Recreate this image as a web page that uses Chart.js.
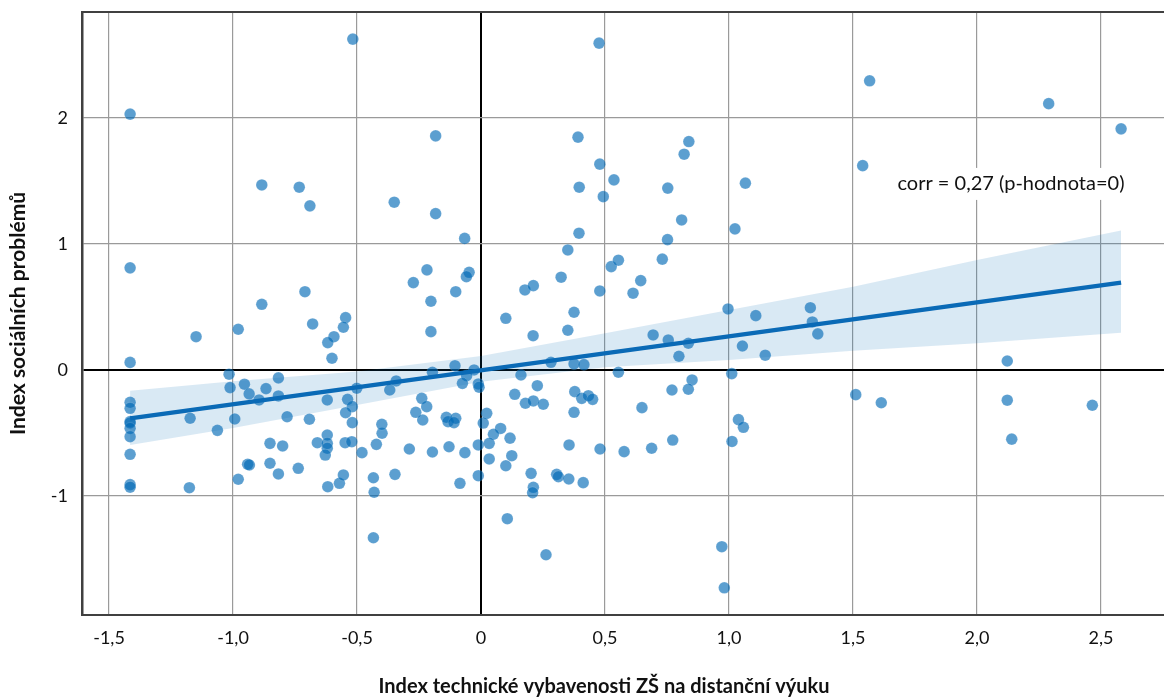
<!DOCTYPE html>
<html>
<head>
<meta charset="utf-8">
<script src="https://cdn.jsdelivr.net/npm/chart.js@4"></script>
<style>
html,body{margin:0;padding:0;background:#fff;}
#wrap{width:1164px;height:698px;}
</style>
</head>
<body>
<div id="wrap"><canvas id="c" width="1164" height="698"></canvas></div>
<script>
// ---- data ----
const xTicks = [-1.5, -1, -0.5, 0, 0.5, 1, 1.5, 2, 2.5];
const xTickLabels = ['-1,5', '-1,0', '-0,5', '0', '0,5', '1,0', '1,5', '2,0', '2,5'];
const yTicks = [-1, 0, 1, 2];
const yTickLabels = ['-1', '0', '1', '2'];

const xTitle = 'Index technické vybavenosti ZŠ na distanční výuku';
const yTitle = 'Index sociálních problémů';
const corrLabel = 'corr = 0,27 (p-hodnota=0)';

const pointX = [
 -1.415,-1.415,-1.415,-1.415,-1.415,-1.415,-1.415,-1.415,-1.415,-1.415,-1.415,-1.415,
 -1.149,-0.979,-0.884,-0.710,-0.679,-0.546,-0.555,-0.593,-0.618,-0.601,
 -1.016,-1.012,-0.954,-0.935,-0.895,-0.867,-0.817,-0.817,-0.782,-0.692,
 -0.620,-0.538,-0.519,-0.546,-0.519,-0.501,-0.993,-1.173,-1.063,-1.176,
 -0.979,-0.941,-0.934,-0.851,-0.800,-0.851,-0.817,-0.737,-0.660,-0.620,
 -0.620,-0.620,-0.628,-0.618,-0.571,-0.555,-0.548,-0.521,-0.480,-0.422,
 -0.434,-0.431,-0.434,-0.399,-0.400,
 -0.884,-0.733,-0.690,-0.517,0.476,-0.183,0.391,0.479,0.536,0.396,
 0.493,-0.350,-0.183,-0.066,0.395,0.753,0.752,0.350,1.567,2.289,
 2.581,0.838,0.819,1.539,1.066,0.809,1.024,
 -0.218,-0.273,-0.048,-0.059,-0.102,-0.202,-0.202,0.100,0.177,0.211,
 0.323,0.375,0.350,0.210,0.479,0.525,0.554,0.644,0.613,0.731,
 0.694,0.755,0.282,0.375,0.415,0.554,-0.196,-0.105,-0.028,-0.058,
 -0.075,-0.011,-0.008,0.161,0.227,-0.342,-0.368,-0.239,-0.219,-0.263,
 -0.235,-0.140,-0.133,-0.102,-0.109,0.136,0.179,0.211,0.251,0.378,
 0.406,0.433,0.450,0.375,0.649,0.770,0.023,0.009,0.079,0.050,0.117,
 0.996,1.108,1.328,1.336,1.358,1.054,1.146,0.836,0.798,1.011,
 0.851,0.836,1.511,1.614,2.122,2.122,2.465,1.038,1.058,0.773,
 1.012,2.140,0.971,0.981,
 -0.289,-0.196,-0.129,-0.065,-0.011,0.033,0.033,0.124,0.100,-0.347,
 -0.085,-0.011,0.202,0.211,0.208,0.305,0.312,0.354,0.412,0.355,
 0.480,0.577,0.688,0.106,0.262
];
const pointY = [
 2.03,0.81,0.06,-0.256,-0.304,-0.41,-0.42,-0.463,-0.529,-0.669,-0.91,-0.93,
 0.264,0.323,0.521,0.621,0.365,0.415,0.339,0.264,0.217,0.093,
 -0.034,-0.140,-0.113,-0.190,-0.238,-0.148,-0.063,-0.206,-0.371,-0.391,
 -0.238,-0.233,-0.291,-0.339,-0.418,-0.145,-0.389,-0.383,-0.479,-0.934,
 -0.867,-0.748,-0.754,-0.582,-0.603,-0.740,-0.825,-0.780,-0.577,-0.516,
 -0.582,-0.621,-0.675,-0.926,-0.899,-0.833,-0.577,-0.569,-0.656,-0.590,
 -0.855,-0.970,-1.331,-0.502,-0.431,
 1.468,1.450,1.302,2.625,2.593,1.857,1.847,1.633,1.508,1.450,
 1.375,1.331,1.240,1.044,1.085,1.443,1.034,0.952,2.294,2.113,
 1.913,1.812,1.712,1.621,1.482,1.190,1.119,
 0.794,0.693,0.775,0.740,0.621,0.545,0.304,0.410,0.635,0.669,
 0.736,0.458,0.315,0.272,0.627,0.820,0.871,0.709,0.609,0.879,
 0.278,0.238,0.061,0.048,0.042,-0.018,-0.018,0.034,0.000,-0.045,
 -0.106,-0.111,-0.137,-0.040,-0.125,-0.087,-0.159,-0.225,-0.291,-0.336,
 -0.397,-0.375,-0.410,-0.383,-0.418,-0.193,-0.264,-0.246,-0.272,-0.172,
 -0.225,-0.204,-0.233,-0.336,-0.299,-0.159,-0.344,-0.421,-0.464,-0.510,-0.541,
 0.484,0.431,0.494,0.381,0.286,0.190,0.117,0.212,0.109,-0.029,
 -0.079,-0.153,-0.196,-0.260,0.071,-0.240,-0.280,-0.394,-0.455,-0.556,
 -0.567,-0.549,-1.402,-1.728,
 -0.627,-0.651,-0.609,-0.656,-0.595,-0.582,-0.706,-0.680,-0.760,-0.828,
 -0.899,-0.839,-0.820,-0.931,-0.974,-0.828,-0.847,-0.865,-0.894,-0.595,
 -0.627,-0.648,-0.621,-1.180,-1.466
];

const fitX = [-1.415, 2.581];
const fitY = [-0.384, 0.693];

const bandX = [-1.415, -1.0, -0.5, 0, 0.5, 1.0, 1.5, 2.0, 2.581];
const bandUpper = [-0.164, -0.09, -0.013, 0.111, 0.291, 0.476, 0.66, 0.873, 1.106];
const bandLower = [-0.595, -0.46, -0.278, -0.093, 0.021, 0.079, 0.153, 0.212, 0.296];

// ---- chart ----
const FONT = 'Lato, "Open Sans", sans-serif';
const zip = (xs, ys) => xs.map((x, i) => ({x: x, y: ys[i]}));

const decor = {
  id: 'decor',
  beforeDatasetsDraw(chart) {
    const {ctx, chartArea: a} = chart;
    ctx.save();
    ctx.strokeStyle = '#404040';
    ctx.lineWidth = 2;
    ctx.beginPath();
    ctx.moveTo(a.left - 1, a.top);
    ctx.lineTo(chart.width, a.top);
    ctx.stroke();
    ctx.restore();
  },
  afterDraw(chart) {
    const {ctx, chartArea: a, scales} = chart;
    ctx.save();
    // correlation label with white box
    ctx.font = '20px ' + FONT;
    const tx = scales.x.getPixelForValue(2.137);
    const ty = scales.y.getPixelForValue(1.476);
    const w = ctx.measureText(corrLabel).width;
    ctx.fillStyle = '#fff';
    ctx.fillRect(tx - w / 2 - 5, ty - 16, w + 10, 32);
    ctx.fillStyle = '#111';
    ctx.textAlign = 'center';
    ctx.textBaseline = 'middle';
    ctx.fillText(corrLabel, tx, ty);
    // axis titles
    ctx.font = 'bold 20px ' + FONT;
    ctx.fillText(xTitle, 604, 687);
    ctx.translate(18, (a.top + a.bottom) / 2);
    ctx.rotate(-Math.PI / 2);
    ctx.font = 'bold 21px ' + FONT;
    ctx.fillText(yTitle, 0, 0);
    ctx.restore();
  }
};

const gridColor = ctx => (ctx.tick && ctx.tick.value === 0) ? '#000000' : '#9a9a9a';
const gridWidth = ctx => (ctx.tick && ctx.tick.value === 0) ? 2 : 1.2;

new Chart(document.getElementById('c'), {
  type: 'scatter',
  data: {
    datasets: [
      {
        label: 'fit',
        data: zip(fitX, fitY),
        showLine: true,
        borderColor: '#0a6ab6',
        borderWidth: 4.5,
        pointRadius: 0,
        fill: false,
        order: 0
      },
      {
        label: 'points',
        data: zip(pointX, pointY),
        backgroundColor: 'rgba(0,105,182,0.64)',
        borderColor: 'rgba(255,255,255,0.25)',
        borderWidth: 0.5,
        pointRadius: 5.8,
        order: 1
      },
      {
        label: 'upper',
        data: zip(bandX, bandUpper),
        showLine: true,
        borderWidth: 0,
        borderColor: 'rgba(0,0,0,0)',
        backgroundColor: 'rgba(0,105,182,0.15)',
        pointRadius: 0,
        fill: '+1',
        order: 2
      },
      {
        label: 'lower',
        data: zip(bandX, bandLower),
        showLine: true,
        borderWidth: 0,
        borderColor: 'rgba(0,0,0,0)',
        pointRadius: 0,
        fill: false,
        order: 3
      }
    ]
  },
  options: {
    responsive: false,
    animation: false,
    events: [],
    layout: {autoPadding: false, padding: {top: 12, right: 0, left: 0, bottom: 0}},
    plugins: {legend: {display: false}, tooltip: {enabled: false}},
    scales: {
      x: {
        type: 'linear',
        min: -1.609,
        max: 2.754,
        afterBuildTicks: s => { s.ticks = xTicks.map(v => ({value: v})); },
        afterFit: s => { s.height = 83; s.paddingLeft = 0; s.paddingRight = 0; },
        ticks: {
          callback: v => xTickLabels[xTicks.indexOf(v)],
          font: {family: FONT, size: 18},
          color: '#111',
          padding: 12,
          maxRotation: 0,
          autoSkip: false
        },
        grid: {color: gridColor, lineWidth: gridWidth, drawTicks: false},
        border: {display: true, color: '#404040', width: 2}
      },
      y: {
        type: 'linear',
        min: -1.944,
        max: 2.84,
        afterBuildTicks: s => { s.ticks = yTicks.map(v => ({value: v})); },
        afterFit: s => { s.width = 82; s.paddingTop = 0; s.paddingBottom = 0; },
        ticks: {
          callback: v => yTickLabels[yTicks.indexOf(v)],
          font: {family: FONT, size: 18},
          color: '#111',
          padding: 14
        },
        grid: {color: gridColor, lineWidth: gridWidth, drawTicks: false},
        border: {display: true, color: '#404040', width: 2.5}
      }
    }
  },
  plugins: [decor]
});
</script>
</body>
</html>
